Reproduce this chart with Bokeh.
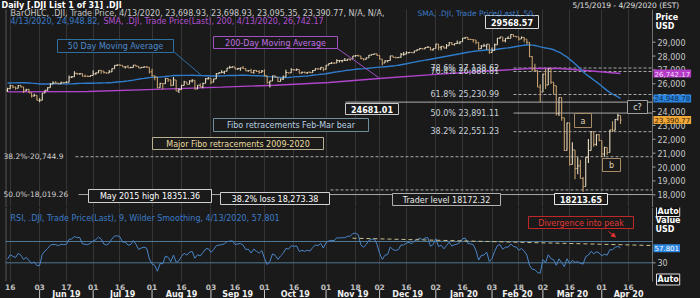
import numpy as np
import pandas as pd
from bokeh.plotting import figure
from bokeh.layouts import column
from bokeh.models import (Range1d, FixedTicker, Label, ColumnDataSource,
                          Arrow, NormalHead)
from bokeh.core.properties import value
from bokeh.embed import file_html
from bokeh.resources import INLINE

# ---------------- data ----------------
HOLIDAYS = ["2019-05-27", "2019-07-04", "2019-09-02", "2019-11-28", "2019-12-25",
            "2020-01-01", "2020-01-20", "2020-02-17", "2020-04-10"]

# closes before the window (Mar 5 - May 14 2019) used for SMA50 / RSI warm-up
PRE_CLOSE = [25807, 25673, 25473, 25450, 25650, 25555, 25702, 25709, 25849, 25914,
             25887, 25746, 25963, 25502, 25516, 25658, 25626, 25717, 25929,
             26258, 26179, 26218, 26385, 26425, 26341, 26150, 26157, 26143, 26412,
             26385, 26453, 26450, 26559, 26512, 26656, 26597, 26462, 26543, 26554, 26593,
             26430, 26308, 26505, 26438, 25965, 25968, 25828, 25942, 25325, 25532]

CLOSE = [
    25648, 25862, 25764, 25680, 25877, 25776, 25490, 25585, 25347, 25126, 25169, 24815,
    24820, 25332, 25540, 25720, 25984, 26062, 26048, 26004, 26106, 26090, 26112, 26465, 26504, 26753, 26719, 26727, 26548, 26536, 26526, 26600,
    26717, 26787, 26966, 26922, 26806, 26783, 26860, 27088, 27332, 27359, 27336, 27219, 27223, 27154, 27172, 27350, 27270, 27141, 27192, 27221, 27198, 26864,
    26583, 26485, 25718, 26030, 26008, 26378, 26287, 25897, 26280, 25479, 25579, 25886, 26136, 25962, 26203, 26253, 25629, 25898, 25778, 26036, 26362, 26403,
    26118, 26356, 26728, 26797, 26836, 26910, 27137, 27182, 27220, 27076, 27111, 27147, 27095, 26935, 26950, 26808, 26971, 26892, 26820, 26917,
    26573, 26079, 26202, 26573, 26479, 26165, 26347, 26497, 26817, 26787, 27025, 26998, 27026, 26770, 26827, 26788, 26834, 26806, 26958, 27091, 27072, 27186, 27046,
    27347, 27462, 27493, 27492, 27675, 27681, 27691, 27691, 27784, 27782, 28005, 28036, 28012, 27821, 27766, 27876, 28066, 28122, 28164, 28051,
    27783, 27503, 27650, 27678, 28015, 27909, 27881, 27911, 28132, 28135, 28235, 28268, 28239, 28377, 28455, 28551, 28516, 28621, 28645, 28462, 28538,
    28868, 28634, 28703, 28583, 28745, 28957, 28824, 28907, 28940, 29030, 29297, 29348, 29196, 29186, 29160, 28990, 28535, 28723, 28734, 28859, 28256,
    28400, 28808, 29290, 29380, 29103, 29276, 29276, 29551, 29424, 29398, 29232, 29348, 29219, 28992, 27961, 27081, 26957, 25767, 25409,
    26703, 25917, 27091, 26121, 25865, 23851, 25018, 23553, 21200, 23186, 20189, 21237, 19899, 20087, 19174, 18592, 20705, 21201, 22552, 21637, 22327, 21917,
    20944, 21413, 21053, 22680, 22654, 23434, 23720, 23391]

HIGH = [
    25710, 25940, 25900, 25790, 25920, 25900, 25780, 25640, 25640, 25380, 25290, 25180,
    24960, 25340, 25560, 25760, 26050, 26180, 26190, 26070, 26150, 26120, 26180, 26600, 26560, 26900, 26800, 26760, 26760, 26680, 26610, 26640,
    26970, 26810, 26970, 26930, 26900, 26820, 26990, 27100, 27340, 27390, 27390, 27330, 27240, 27360, 27230, 27360, 27340, 27280, 27220, 27240, 27260, 27200,
    27090, 26550, 26300, 26070, 26040, 26400, 26330, 26250, 26500, 26010, 25680, 25930, 26230, 26110, 26260, 26330, 26260, 25920, 26040, 26080, 26420, 26490,
    26260, 26370, 26780, 26830, 26980, 26920, 27140, 27300, 27260, 27220, 27120, 27160, 27290, 27130, 26990, 27080, 26990, 27000, 27000, 26990,
    27040, 26550, 26230, 26580, 26590, 26440, 26390, 26600, 27010, 26820, 27120, 27060, 27110, 27020, 26880, 26890, 26860, 26890, 26990, 27130, 27130, 27190, 27180,
    27350, 27470, 27570, 27560, 27770, 27690, 27700, 27870, 27790, 27800, 28010, 28070, 28090, 28000, 27850, 27900, 28070, 28140, 28170, 28150,
    28050, 27780, 27700, 27700, 28030, 28000, 27950, 27930, 28220, 28290, 28340, 28300, 28300, 28380, 28490, 28580, 28580, 28630, 28700, 28650, 28550,
    28870, 28720, 28710, 28680, 28870, 29010, 29010, 28910, 29130, 29060, 29300, 29370, 29340, 29250, 29210, 29160, 28800, 28800, 28890, 28860, 28830,
    28620, 28900, 29300, 29380, 29320, 29280, 29420, 29569, 29490, 29440, 29380, 29410, 29350, 29170, 28400, 28000, 27450, 26960, 25960,
    26710, 27080, 27100, 26850, 25990, 24990, 25020, 24520, 22840, 23190, 21990, 21790, 21000, 20700, 20530, 19290, 20710, 22020, 22600, 22330, 22360, 22390,
    21400, 21460, 21300, 22680, 23310, 23470, 23850, 23699]

LOW = [
    25410, 25620, 25680, 25580, 25690, 25740, 25330, 25480, 25340, 25010, 25080, 24810,
    24680, 24840, 25330, 25500, 25720, 26020, 26000, 25960, 26010, 26000, 26060, 26130, 26420, 26560, 26650, 26660, 26520, 26500, 26490, 26520,
    26650, 26660, 26790, 26730, 26740, 26720, 26800, 26900, 27100, 27290, 27300, 27210, 27100, 27150, 27140, 27200, 27230, 27130, 27140, 27150, 27140, 26750,
    26500, 26250, 25660, 25730, 25610, 26010, 26130, 25830, 25880, 25470, 25340, 25710, 26030, 25960, 26000, 26100, 25590, 25680, 25750, 25680, 26060, 26320,
    25980, 26160, 26530, 26730, 26780, 26700, 26940, 27100, 27180, 27050, 27000, 26950, 27090, 26920, 26880, 26780, 26730, 26850, 26720, 26820,
    26550, 26030, 25740, 26220, 26440, 26150, 26190, 26270, 26510, 26740, 26800, 26940, 26940, 26740, 26760, 26760, 26730, 26770, 26800, 26970, 27020, 27000, 26900,
    27100, 27350, 27430, 27450, 27500, 27530, 27530, 27670, 27660, 27670, 27820, 27960, 27970, 27780, 27680, 27760, 27900, 28040, 28120, 28030,
    27760, 27320, 27540, 27550, 27730, 27890, 27850, 27860, 27900, 28030, 28190, 28200, 28230, 28250, 28370, 28460, 28500, 28530, 28600, 28410, 28380,
    28630, 28420, 28420, 28560, 28520, 28850, 28800, 28770, 28890, 28850, 29080, 29250, 29160, 29160, 28970, 28860, 28440, 28560, 28700, 28460, 28170,
    28320, 28500, 28890, 29250, 29030, 28990, 29230, 29320, 29380, 29330, 29120, 29250, 29000, 28850, 27920, 26900, 26890, 25770, 24680,
    25500, 25630, 26290, 25990, 25230, 23710, 23680, 23330, 21150, 21290, 20120, 20340, 19120, 19490, 19170, 18214, 19340, 20290, 21470, 21470, 21530, 21860,
    20730, 20740, 20870, 21780, 22530, 22670, 23360, 23095]

LAST_CLOSE_TEXT = "23,390.77"

# 200-day SMA (trading-day index, value)
SMA200_IDX = [0, 30, 55, 80, 100, 120, 140, 160, 180, 195, 205, 215, 229]
SMA200_VAL = [25420, 25450, 25600, 25760, 25900, 26100, 26400, 26680, 26920, 27100, 27120, 26980, 26742.17]

FIB_PCT = ["78.6%", "76.4%", "61.8%", "50.0%", "38.2%"]
FIB_VAL = [27138.62, 26888.81, 25230.99, 23891.11, 22551.23]
MAJOR_382 = 20744.9
MAJOR_500 = 18019.26
MAY2015_HIGH = 18351.36
LEVEL_24681 = 24681.01
PEAK = 29568.57
TROUGH = 18213.65
RSI_LAST_TEXT = "57.801"

TICK_DATES = ["2019-05-16", "2019-06-03", "2019-06-17", "2019-07-01", "2019-07-16", "2019-08-01",
              "2019-08-16", "2019-09-03", "2019-09-16", "2019-10-01", "2019-10-16", "2019-11-01",
              "2019-11-18", "2019-12-02", "2019-12-16", "2020-01-02", "2020-01-16", "2020-02-03",
              "2020-02-18", "2020-03-02", "2020-03-16", "2020-04-01", "2020-04-16"]
MONTH_STARTS = ["2019-06-03", "2019-07-01", "2019-08-01", "2019-09-03", "2019-10-01", "2019-11-01",
                "2019-12-02", "2020-01-02", "2020-02-03", "2020-03-02", "2020-04-01"]
PRICE_TICKS = [18000, 19000, 20000, 21000, 22000, 23000, 24000, 25000, 26000, 27000, 28000, 29000]
RSI_TICKS = [30]

# ---------------- derived ----------------
axis_dates = pd.bdate_range("2019-05-15", "2020-04-29", freq="C", holidays=HOLIDAYS)
n_days = len(CLOSE)
idx = np.arange(n_days)
C = np.array(CLOSE, float)
H = np.array(HIGH, float)
L = np.array(LOW, float)
O = np.r_[PRE_CLOSE[-1], C[:-1]]
top = np.maximum.reduce([H, O, C])
bot = np.minimum.reduce([L, O, C])
bar_col = np.where(C >= O, "#e6dac0", "#c49e6e")

allc = np.array(PRE_CLOSE + CLOSE, float)
npre = len(PRE_CLOSE)
sma50 = np.array([allc[k - 49:k + 1].mean() for k in range(npre, len(allc))])

d = np.diff(allc)
gain = np.clip(d, 0, None)
loss = np.clip(-d, 0, None)
per = 9
ag = gain[:per].mean()
al = loss[:per].mean()
rsi_full = {}
for i in range(per, len(d)):
    ag = (ag * (per - 1) + gain[i]) / per
    al = (al * (per - 1) + loss[i]) / per
    rsi_full[i + 1] = 100 - 100 / (1 + ag / al)
rsi = np.array([rsi_full[k] for k in range(npre, len(allc))])

tick_idx = [int(axis_dates.get_loc(pd.Timestamp(t))) for t in TICK_DATES]
tick_lbl = [pd.Timestamp(t).strftime("%d") for t in TICK_DATES]
ms_idx = [int(axis_dates.get_loc(pd.Timestamp(t))) for t in MONTH_STARTS]
month_lbl = [pd.Timestamp(t).strftime("%b %y") for t in MONTH_STARTS]
ends = ms_idx[1:] + [len(axis_dates)]
month_ctr = [(a + b) / 2 for a, b in zip(ms_idx, ends)]

# ---------------- layout helpers (pixel -> data) ----------------
BG = "#1a1a1a"
FONT = "DejaVu Sans"
AXIS_X = 652


def X(px):
    return (px - 7.0) / 2.677


def Y1(py):
    return 29000 - (py - 41.7) / 0.013873


def Y2(py):
    return 70 - (py - 241.0) / 0.533


def lab(p, x, y, text, color, size="8px", style="normal", align="left", bg=None, border=None, pad=None):
    kw = dict(x=x, y=y, text=text, text_color=color, text_font=FONT, text_font_size=size,
              text_font_style=style, text_align=align, text_baseline="middle")
    if bg is not None:
        kw["background_fill_color"] = bg
    if border is not None:
        kw["border_line_color"] = border
    if pad is not None:
        kw["padding"] = pad
    p.add_layout(Label(**kw))


def box(p, Yf, x0, x1, y0, y1, text, tcol, bcol, size="8px", style="normal", fill=BG):
    p.quad(left=X(x0), right=X(x1), top=Yf(y0), bottom=Yf(y1),
           fill_color=fill, line_color=bcol, line_width=1)
    lab(p, X((x0 + x1) / 2), Yf((y0 + y1) / 2 + 0.5), text, tcol, size, style, align="center")


def right_axis(p, Yf, ticks, labels, ytop, ybot):
    p.line([X(AXIS_X), X(AXIS_X)], [Yf(ytop), Yf(ybot)], line_color="#707070", line_width=1)
    p.segment(x0=[X(AXIS_X)] * len(ticks), y0=ticks, x1=[X(AXIS_X + 3)] * len(ticks), y1=ticks,
              line_color="#a0a0a0", line_width=1)
    p.text(x=[X(AXIS_X + 5)] * len(ticks), y=ticks, text=labels, text_color="#c8c8c8",
           text_font=value(FONT), text_font_size="8px", text_align="left", text_baseline="middle")


def base_fig(height, yr):
    p = figure(width=700, height=height, x_range=Range1d(X(0), X(700)), y_range=yr,
               output_backend="svg", toolbar_location=None, x_axis_location=None,
               y_axis_location=None, min_border_left=0, min_border_right=0,
               min_border_top=0, min_border_bottom=0)
    p.background_fill_color = BG
    p.border_fill_color = BG
    p.outline_line_color = None
    p.xgrid.ticker = FixedTicker(ticks=tick_idx)
    p.xgrid.grid_line_color = "#363636"
    p.ygrid.grid_line_color = None
    return p


# ---------------- price panel ----------------
p1 = base_fig(207, Range1d(Y1(207), Y1(0)))

# title strip cover and left border
p1.quad(left=X(0), right=X(700), top=Y1(-5), bottom=Y1(9), fill_color=BG, line_color=None)
p1.line([X(5.5), X(5.5)], [Y1(9), Y1(207)], line_color="#555555", line_width=1)

# fibo / level lines
GREY = "#a8a8a8"
for lv, pct in zip(FIB_VAL, FIB_PCT):
    dash = "solid" if pct == "50.0%" else "3 2"
    p1.line([X(513), X(AXIS_X)], [lv, lv], line_color=GREY, line_width=1, line_dash=dash)
p1.line([X(345), X(AXIS_X)], [LEVEL_24681, LEVEL_24681], line_color="#b0b0b0", line_width=1)
p1.line([X(75), X(AXIS_X)], [MAJOR_382, MAJOR_382], line_color=GREY, line_width=1, line_dash="3 2")
p1.line([X(78), X(AXIS_X)], [MAJOR_500, MAJOR_500], line_color=GREY, line_width=1)
p1.line([X(330), X(AXIS_X)], [MAY2015_HIGH, MAY2015_HIGH], line_color=GREY, line_width=1, line_dash="3 2")

# moving averages
p1.line(SMA200_IDX, SMA200_VAL, line_color="#b044cc", line_width=1.4)
p1.line(idx, sma50, line_color="#2f7ccc", line_width=1.4)

# OHLC bars
src = ColumnDataSource(dict(x=idx, xl=idx - 0.45, xr=idx + 0.45, o=O, c=C, lo=bot, hi=top, col=bar_col))
p1.segment("x", "lo", "x", "hi", source=src, line_color="col", line_width=1.1)
p1.segment("xl", "o", "x", "o", source=src, line_color="col", line_width=1)
p1.segment("x", "c", "xr", "c", source=src, line_color="col", line_width=1)

# connectors
p1.line([X(173), X(200)], [Y1(51), Y1(74)], line_color="#2f6fa8", line_width=1)
p1.line([X(337), X(378)], [Y1(48), Y1(77)], line_color="#a050c0", line_width=1)

# annotation boxes
box(p1, Y1, 485, 538, 15, 28, f"{PEAK:.2f}", "#ffffff", "#d8d8d8", "8px", "bold")
box(p1, Y1, 57, 173, 39, 52, "50 Day Moving Average", "#4a8ad0", "#2f6f9f", "8px")
box(p1, Y1, 213, 337, 36, 48, "200-Day Moving Average", "#c070e0", "#a050c0", "8px")
box(p1, Y1, 345, 398, 103, 114, f"{LEVEL_24681:.2f}", "#ffffff", "#c8c8c8", "8px", "bold")
box(p1, Y1, 213, 368, 118, 131, "Fibo retracements Feb-Mar bear", "#b8d0e0", "#6f8f9f", "8px")
box(p1, Y1, 152, 323, 137, 149, "Major Fibo retracements 2009-2020", "#ecdca0", "#b8b090", "8px")
box(p1, Y1, 574, 591, 113, 127, "a", "#e0d0b0", "#a88c68", "8px")
box(p1, Y1, 602, 620, 158, 171, "b", "#e0d0b0", "#a88c68", "8px")
box(p1, Y1, 627, 647, 100, 113, "c?", "#e0e0e0", "#a0a0a0", "8px")
box(p1, Y1, 88, 211, 189, 202, f"May 2015 high {MAY2015_HIGH:.2f}", "#ffffff", "#d0d0d0", "8px")
box(p1, Y1, 220, 329, 192, 204, "38.2% loss 18,273.38", "#ffffff", "#d0d0d0", "8px")
box(p1, Y1, 392, 500, 193, 205, "Trader level 18172.32", "#e8e8e8", "#b0b0b0", "8px")
box(p1, Y1, 554, 607, 193, 204, f"{TROUGH:.2f}", "#ffffff", "#e8e8e8", "8px", "bold")

# fibo labels
for lv, pct in zip(FIB_VAL, FIB_PCT):
    lab(p1, X(430), lv, f"{pct} {lv:,.2f}", "#c8d0d8", "8px")
lab(p1, X(3), MAJOR_382, f"38.2%-{MAJOR_382:,.1f}", "#d0d0d0", "7.5px")
lab(p1, X(3), MAJOR_500, f"50.0%-{MAJOR_500:,.2f}", "#d0d0d0", "7.5px")

# header texts
lab(p1, X(1), Y1(4.5), "Daily [.DJI List 1 of 31] .DJI", "#ffffff", "8px", "bold")
lab(p1, X(572), Y1(4.5), "5/15/2019 - 4/29/2020 (EST)", "#e0e0e0", "7.5px", align="left")
lab(p1, X(10), Y1(13), "BarOHLC, .DJI, Trade Price, 4/13/2020, 23,698.93, 23,698.93, 23,095.35, 23,390.77, N/A, N/A,",
    "#c8c8c8", "8px")
lab(p1, X(417), Y1(13), "SMA, .DJI, Trade Price(Last), 50,", "#3a7cc8", "7.5px")
lab(p1, X(10), Y1(20.5), "4/13/2020, 24,948.82,", "#3a7cc8", "8px")
lab(p1, X(103), Y1(20.5), "SMA, .DJI, Trade Price(Last), 200, 4/13/2020, 26,742.17", "#b050d0", "8px")

# right price axis (drawn in the panel)
right_axis(p1, Y1, PRICE_TICKS, [f"{t:,}" for t in PRICE_TICKS], 9, 207)
lab(p1, X(655), Y1(17), "Price", "#ffffff", "8px", "bold")
lab(p1, X(655), Y1(25.5), "USD", "#ffffff", "8px", "bold")
lab(p1, X(653), SMA200_VAL[-1], f"{SMA200_VAL[-1]:,.2f}", "#f4d8f8", "7px", bg="#b43cc8", pad=1)
lab(p1, X(653), sma50[-1], f"{sma50[-1]:,.2f}", "#0a2a50", "7px", bg="#2c86e0", pad=1)
lab(p1, X(653), C[-1], LAST_CLOSE_TEXT, "#3a2000", "7px", bg="#f0a838", pad=1)

# ---------------- RSI panel ----------------
p2 = base_fig(91, Range1d(Y2(298), Y2(207)))
p2.line([X(5.5), X(5.5)], [Y2(207), Y2(281)], line_color="#555555", line_width=1)
p2.line([X(5), X(AXIS_X)], [70, 70], line_color="#4f7896", line_width=1)
p2.line([X(5), X(AXIS_X)], [30, 30], line_color="#4f7896", line_width=1)
p2.line(idx, rsi, line_color="#4a86c8", line_width=1)
p2.line([X(352), X(AXIS_X)], [Y2(237.7), Y2(245)], line_color="#c8c090", line_width=1, line_dash="4 3")

# x-axis label strip
p2.quad(left=X(0), right=X(700), top=Y2(281), bottom=Y2(305), fill_color=BG, line_color=None)
p2.segment(x0=ms_idx, y0=[Y2(289)] * len(ms_idx), x1=ms_idx, y1=[Y2(298)] * len(ms_idx),
           line_color="#c8c8c8", line_width=1)
p2.text(x=tick_idx, y=[Y2(286.5)] * len(tick_idx), text=tick_lbl, text_color="#c0c0c0",
        text_font=value(FONT), text_font_size="7.5px", text_font_style="bold",
        text_align="center", text_baseline="middle")
p2.text(x=month_ctr, y=[Y2(294)] * len(month_ctr), text=month_lbl, text_color="#f0f0f0",
        text_font=value(FONT), text_font_size="8px", text_font_style="bold",
        text_align="center", text_baseline="middle")

box(p2, Y2, 528, 633, 216, 228, "Divergence into peak", "#e03838", "#c02828", "8px")
p2.add_layout(Arrow(end=NormalHead(size=4, fill_color="#e03030", line_color="#e03030"),
                    x_start=X(608), y_start=Y2(231), x_end=X(615), y_end=Y2(236.5),
                    line_color="#e03030", line_width=1))

right_axis(p2, Y2, RSI_TICKS, [str(t) for t in RSI_TICKS], 207, 281)
lab(p2, X(10), Y2(218), "RSI, .DJI, Trade Price(Last), 9, Wilder Smoothing, 4/13/2020, 57.801", "#3a7cc8", "8px")
lab(p2, X(656), Y2(210.5), "Auto", "#ffffff", "8px", "bold", border="#e0e0e0", bg="#101010", pad=1)
lab(p2, X(656), Y2(279), "Auto", "#ffffff", "8px", "bold", border="#e0e0e0", bg="#101010", pad=1)
lab(p2, X(655), Y2(219.5), "Value", "#ffffff", "8px", "bold")
lab(p2, X(655), Y2(228.5), "USD", "#ffffff", "8px", "bold")
lab(p2, X(653), Y2(247.7), RSI_LAST_TEXT, "#ffffff", "7px", bg="#2c86e0", pad=1)

layout = column(p1, p2, spacing=0)
layout.styles = {"background-color": BG}
open("out.html", "w").write(file_html(layout, INLINE))
